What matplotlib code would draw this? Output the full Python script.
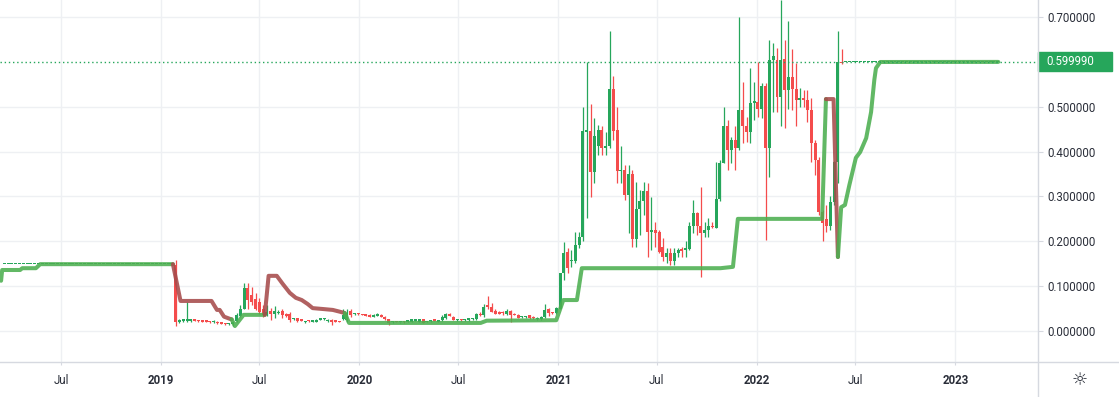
import numpy as np
import pandas as pd
import matplotlib
matplotlib.use('Agg')
import matplotlib.pyplot as plt
import matplotlib.dates as mdates
import matplotlib.transforms as mtransforms
from matplotlib.lines import Line2D
from matplotlib.patches import Rectangle

plt.rcParams['font.family'] = ['Roboto', 'DejaVu Sans']

# weekly candles, the first traded week starts 2019-01-28
first_week = '2019-01-28'
opens = [0.148, 0.020, 0.022, 0.023, 0.023, 0.025, 0.023, 0.022, 0.0215, 0.021,
         0.019, 0.021, 0.018, 0.017, 0.015, 0.016, 0.022, 0.034, 0.050, 0.095,
         0.080, 0.071, 0.065, 0.050, 0.036, 0.045, 0.038, 0.040, 0.045, 0.037,
         0.039, 0.026, 0.028, 0.024, 0.019, 0.023, 0.021, 0.021, 0.025, 0.026,
         0.022, 0.025, 0.024, 0.022, 0.026, 0.024, 0.045, 0.037, 0.039, 0.038,
         0.037, 0.036, 0.032, 0.034, 0.036, 0.032, 0.026, 0.019, 0.022, 0.019,
         0.022, 0.021, 0.021, 0.023, 0.021, 0.026, 0.020, 0.022, 0.024, 0.021,
         0.024, 0.030, 0.039, 0.032, 0.024, 0.025, 0.024, 0.024, 0.026, 0.027,
         0.039, 0.036, 0.057, 0.053, 0.045, 0.043, 0.041, 0.037, 0.045, 0.039,
         0.036, 0.031, 0.031, 0.035, 0.032, 0.026, 0.026, 0.032, 0.050, 0.041,
         0.040, 0.050, 0.129, 0.177, 0.155, 0.155, 0.192, 0.210, 0.444, 0.446,
         0.355, 0.413, 0.448, 0.407, 0.413, 0.539, 0.448, 0.357, 0.360, 0.303,
         0.351, 0.204, 0.273, 0.290, 0.312, 0.221, 0.225, 0.220, 0.188, 0.166,
         0.175, 0.155, 0.173, 0.181, 0.181, 0.182, 0.233, 0.262, 0.233, 0.218,
         0.225, 0.234, 0.229, 0.294, 0.374, 0.456, 0.404, 0.426, 0.407, 0.493,
         0.457, 0.444, 0.509, 0.511, 0.496, 0.546, 0.407, 0.604, 0.604, 0.522,
         0.606, 0.537, 0.566, 0.539, 0.515, 0.519, 0.515, 0.493, 0.418, 0.381,
         0.266, 0.250, 0.233, 0.288, 0.377, 0.600, 0.5999]
highs = [0.158, 0.027, 0.027, 0.065, 0.027, 0.027, 0.024, 0.023, 0.023, 0.022,
         0.025, 0.022, 0.019, 0.018, 0.017, 0.022, 0.040, 0.058, 0.108, 0.106,
         0.099, 0.084, 0.073, 0.058, 0.058, 0.052, 0.055, 0.046, 0.050, 0.040,
         0.043, 0.030, 0.030, 0.025, 0.023, 0.024, 0.024, 0.027, 0.027, 0.029,
         0.026, 0.026, 0.025, 0.023, 0.048, 0.049, 0.048, 0.040, 0.040, 0.039,
         0.038, 0.037, 0.039, 0.041, 0.037, 0.033, 0.027, 0.023, 0.023, 0.021,
         0.023, 0.024, 0.027, 0.027, 0.027, 0.027, 0.022, 0.024, 0.025, 0.025,
         0.036, 0.040, 0.040, 0.033, 0.027, 0.026, 0.026, 0.029, 0.029, 0.040,
         0.043, 0.060, 0.078, 0.063, 0.048, 0.044, 0.045, 0.048, 0.046, 0.040,
         0.037, 0.034, 0.033, 0.036, 0.033, 0.031, 0.033, 0.060, 0.052, 0.042,
         0.054, 0.129, 0.199, 0.184, 0.180, 0.221, 0.221, 0.500, 0.599, 0.506,
         0.474, 0.459, 0.456, 0.444, 0.669, 0.568, 0.500, 0.413, 0.370, 0.370,
         0.360, 0.333, 0.314, 0.333, 0.331, 0.299, 0.244, 0.225, 0.207, 0.184,
         0.184, 0.184, 0.184, 0.188, 0.200, 0.244, 0.292, 0.266, 0.322, 0.244,
         0.251, 0.244, 0.377, 0.381, 0.500, 0.470, 0.433, 0.456, 0.701, 0.556,
         0.478, 0.586, 0.556, 0.600, 0.552, 0.552, 0.649, 0.641, 0.630, 0.738,
         0.649, 0.690, 0.628, 0.597, 0.541, 0.537, 0.537, 0.519, 0.426, 0.388,
         0.270, 0.280, 0.300, 0.380, 0.669, 0.628, 0.6001]
lows = [0.011, 0.018, 0.020, 0.020, 0.021, 0.022, 0.021, 0.020, 0.019, 0.018,
        0.017, 0.016, 0.015, 0.014, 0.013, 0.011, 0.020, 0.032, 0.048, 0.050,
        0.058, 0.047, 0.039, 0.032, 0.034, 0.025, 0.030, 0.038, 0.030, 0.032,
        0.021, 0.025, 0.021, 0.022, 0.018, 0.021, 0.020, 0.020, 0.024, 0.025,
        0.021, 0.013, 0.020, 0.019, 0.024, 0.021, 0.032, 0.035, 0.036, 0.035,
        0.033, 0.031, 0.031, 0.033, 0.031, 0.025, 0.013, 0.018, 0.019, 0.018,
        0.018, 0.020, 0.020, 0.022, 0.020, 0.018, 0.019, 0.021, 0.022, 0.020,
        0.023, 0.026, 0.033, 0.024, 0.022, 0.023, 0.023, 0.023, 0.025, 0.024,
        0.034, 0.032, 0.048, 0.042, 0.037, 0.038, 0.035, 0.036, 0.021, 0.035,
        0.029, 0.030, 0.030, 0.026, 0.027, 0.025, 0.025, 0.030, 0.034, 0.038,
        0.038, 0.048, 0.114, 0.129, 0.143, 0.151, 0.184, 0.200, 0.251, 0.299,
        0.329, 0.392, 0.392, 0.392, 0.407, 0.426, 0.329, 0.329, 0.292, 0.218,
        0.188, 0.188, 0.214, 0.259, 0.166, 0.180, 0.188, 0.173, 0.155, 0.151,
        0.147, 0.147, 0.166, 0.166, 0.166, 0.181, 0.218, 0.214, 0.121, 0.210,
        0.210, 0.229, 0.229, 0.290, 0.374, 0.359, 0.374, 0.359, 0.404, 0.418,
        0.422, 0.418, 0.470, 0.478, 0.474, 0.203, 0.344, 0.489, 0.489, 0.456,
        0.452, 0.496, 0.493, 0.457, 0.500, 0.500, 0.467, 0.377, 0.348, 0.259,
        0.200, 0.220, 0.225, 0.280, 0.330, 0.596, 0.5998]
closes = [0.020, 0.024, 0.026, 0.027, 0.025, 0.023, 0.022, 0.021, 0.021, 0.019,
          0.021, 0.018, 0.016, 0.015, 0.016, 0.021, 0.036, 0.050, 0.095, 0.069,
          0.065, 0.050, 0.043, 0.036, 0.043, 0.038, 0.045, 0.043, 0.036, 0.034,
          0.025, 0.028, 0.023, 0.023, 0.022, 0.022, 0.023, 0.025, 0.026, 0.028,
          0.025, 0.019, 0.021, 0.020, 0.036, 0.041, 0.035, 0.039, 0.037, 0.036,
          0.034, 0.032, 0.035, 0.038, 0.032, 0.026, 0.017, 0.022, 0.020, 0.020,
          0.019, 0.023, 0.026, 0.026, 0.026, 0.0186, 0.021, 0.023, 0.023, 0.024,
          0.032, 0.039, 0.034, 0.025, 0.025, 0.024, 0.025, 0.028, 0.028, 0.039,
          0.035, 0.054, 0.053, 0.043, 0.039, 0.039, 0.040, 0.045, 0.036, 0.036,
          0.030, 0.033, 0.032, 0.030, 0.028, 0.030, 0.032, 0.047, 0.040, 0.040,
          0.052, 0.129, 0.173, 0.140, 0.157, 0.192, 0.210, 0.446, 0.446, 0.355,
          0.435, 0.448, 0.407, 0.413, 0.539, 0.446, 0.357, 0.360, 0.303, 0.351,
          0.204, 0.273, 0.290, 0.312, 0.221, 0.225, 0.218, 0.177, 0.166, 0.175,
          0.155, 0.175, 0.181, 0.179, 0.184, 0.233, 0.262, 0.233, 0.218, 0.225,
          0.233, 0.231, 0.294, 0.374, 0.456, 0.404, 0.426, 0.407, 0.493, 0.457,
          0.444, 0.509, 0.511, 0.496, 0.546, 0.407, 0.604, 0.612, 0.521, 0.604,
          0.537, 0.566, 0.539, 0.515, 0.519, 0.515, 0.493, 0.418, 0.381, 0.266,
          0.240, 0.233, 0.288, 0.377, 0.600, 0.597, 0.6000]

# untraded weeks shown as flat candles before and after the traded period
lead_price = 0.1486
lead_weeks = 45
tail_price = 0.59999
tail_weeks = 40
last_price = 0.59999

# trailing stop line: point dates, values, and the trend of the leg starting there
line_dates = ['2018-03-13', '2018-03-15', '2018-04-17', '2018-04-21', '2018-05-16',
              '2018-05-24', '2019-01-23', '2019-02-06', '2019-04-04', '2019-04-14',
              '2019-04-19', '2019-04-27', '2019-05-08', '2019-05-11', '2019-05-17',
              '2019-06-02', '2019-07-11', '2019-07-18', '2019-08-02', '2019-08-13',
              '2019-08-26', '2019-09-06', '2019-09-17', '2019-09-28', '2019-10-07',
              '2019-10-26', '2019-11-13', '2019-11-26', '2019-12-05', '2019-12-13',
              '2020-08-11', '2020-08-22', '2020-12-28', '2021-01-10', '2021-02-04',
              '2021-02-13', '2021-10-26', '2021-11-18', '2021-11-27', '2022-05-01',
              '2022-05-08', '2022-05-22', '2022-05-30', '2022-06-05', '2022-06-12',
              '2022-06-20', '2022-07-02', '2022-07-10', '2022-07-21', '2022-07-30',
              '2022-08-05', '2022-08-08', '2022-08-16', '2023-03-21']
line_values = [0.112, 0.136, 0.136, 0.140, 0.140, 0.149, 0.149, 0.067, 0.067, 0.047,
               0.047, 0.032, 0.027, 0.026, 0.011, 0.036, 0.036, 0.123, 0.123, 0.105,
               0.085, 0.074, 0.069, 0.060, 0.051, 0.049, 0.047, 0.043, 0.040, 0.018,
               0.018, 0.023, 0.024, 0.069, 0.069, 0.140, 0.140, 0.143, 0.250, 0.250,
               0.517, 0.517, 0.165, 0.276, 0.281, 0.325, 0.386, 0.399, 0.430, 0.488,
               0.560, 0.586, 0.5997, 0.5999]
line_trend = 'gggggg' + 'rrrrrrr' + 'ggg' + 'rrrrrrrrrrrr' + 'gggggggggggg' + 'rr' + 'gggggggggggg' + 'g'

UP = '#26a65b'
DOWN = '#f44c4c'
LINE_UP = '#4caf50'
LINE_DOWN = '#a64b4b'
GRID = '#eef0f3'
FRAME = '#d6d9e0'
TEXT = '#2a2e39'

W, H = 1119, 397
fig = plt.figure(figsize=(W / 100, H / 100), dpi=100)
ax = fig.add_axes([0, 35 / H, 1038 / W, 362 / H])

# build the full weekly series
o = [lead_price] * lead_weeks + opens + [tail_price] * tail_weeks
h = [lead_price] * lead_weeks + highs + [tail_price] * tail_weeks
l = [lead_price] * lead_weeks + lows + [tail_price] * tail_weeks
c = [lead_price] * lead_weeks + closes + [tail_price] * tail_weeks
o, h, l, c = map(np.array, (o, h, l, c))
start = pd.Timestamp(first_week) - pd.Timedelta(weeks=lead_weeks)
dates = pd.date_range(start, periods=len(o), freq='7D')
x = mdates.date2num(dates)

colors = np.where(c >= o, UP, DOWN)
ranged = h > l
ax.vlines(x[ranged], l[ranged], h[ranged], colors=colors[ranged], linewidth=0.9, zorder=3)
body_low = np.minimum(o, c)
body_h = np.maximum(np.abs(c - o), 0.003)
ax.bar(x, body_h, bottom=body_low, width=5.5, color=list(colors), linewidth=0, zorder=3)

# trailing line, coloured by trend
lx = mdates.date2num(pd.to_datetime(line_dates))
s = 0
for k in range(1, len(lx)):
    if k == len(lx) - 1 or line_trend[k] != line_trend[s]:
        col = LINE_UP if line_trend[s] == 'g' else LINE_DOWN
        ax.plot(lx[s:k + 1], line_values[s:k + 1], color=col, lw=2.9, alpha=0.88,
                solid_joinstyle='round', solid_capstyle='round', zorder=4)
        s = k

# last price line and label
ax.axhline(last_price, color=UP, lw=1, ls=(0, (1, 2)), zorder=5)
trans = mtransforms.blended_transform_factory(ax.transAxes, ax.transData)
ax.add_patch(Rectangle((1.0, last_price - 0.021), 0.0713, 0.042, transform=trans,
                       color=UP, clip_on=False, zorder=6))
ax.text(1.0085, last_price, '%.6f' % last_price, transform=trans, color='white',
        fontsize=8.3, va='center', ha='left', zorder=7)

# axes
xtick_dates = ['2018-07-01', '2019-01-01', '2019-07-01', '2020-01-01', '2020-07-01',
               '2021-01-01', '2021-07-01', '2022-01-01', '2022-07-01', '2023-01-01']
xtick_labels = ['Jul', '2019', 'Jul', '2020', 'Jul', '2021', 'Jul', '2022', 'Jul', '2023']
yticks = [0.0, 0.1, 0.2, 0.3, 0.4, 0.5, 0.7]

ax.set_xlim(mdates.date2num(pd.Timestamp('2018-03-11')),
            mdates.date2num(pd.Timestamp('2023-06-02')))
ax.set_ylim(-0.0691, 0.7379)
ax.set_xticks(mdates.date2num(pd.to_datetime(xtick_dates)))
ax.set_xticklabels(xtick_labels)
for lab in ax.get_xticklabels():
    if lab.get_text() != 'Jul':
        lab.set_fontweight('bold')
ax.yaxis.tick_right()
ax.set_yticks(yticks)
ax.set_yticklabels(['%.6f' % v for v in yticks])
ax.tick_params(axis='x', length=2.5, color=FRAME, pad=6, labelsize=8.3, labelcolor=TEXT)
ax.tick_params(axis='y', length=3.6, color=FRAME, pad=3, labelsize=8.3, labelcolor=TEXT)
ax.grid(True, color=GRID, lw=1, zorder=0)
ax.set_axisbelow(True)
for sp in ax.spines.values():
    sp.set_visible(False)

# frame lines of the price and time scales
fig.add_artist(Line2D([0, 1], [35 / H, 35 / H], color=FRAME, lw=1))
fig.add_artist(Line2D([1038 / W, 1038 / W], [0, 1], color=FRAME, lw=1))
fig.text(1080 / W, 1 - 380 / H, '\u263c', ha='center', va='center', fontsize=13,
         color=TEXT, family='DejaVu Sans')

fig.savefig('out.png', dpi=100)
